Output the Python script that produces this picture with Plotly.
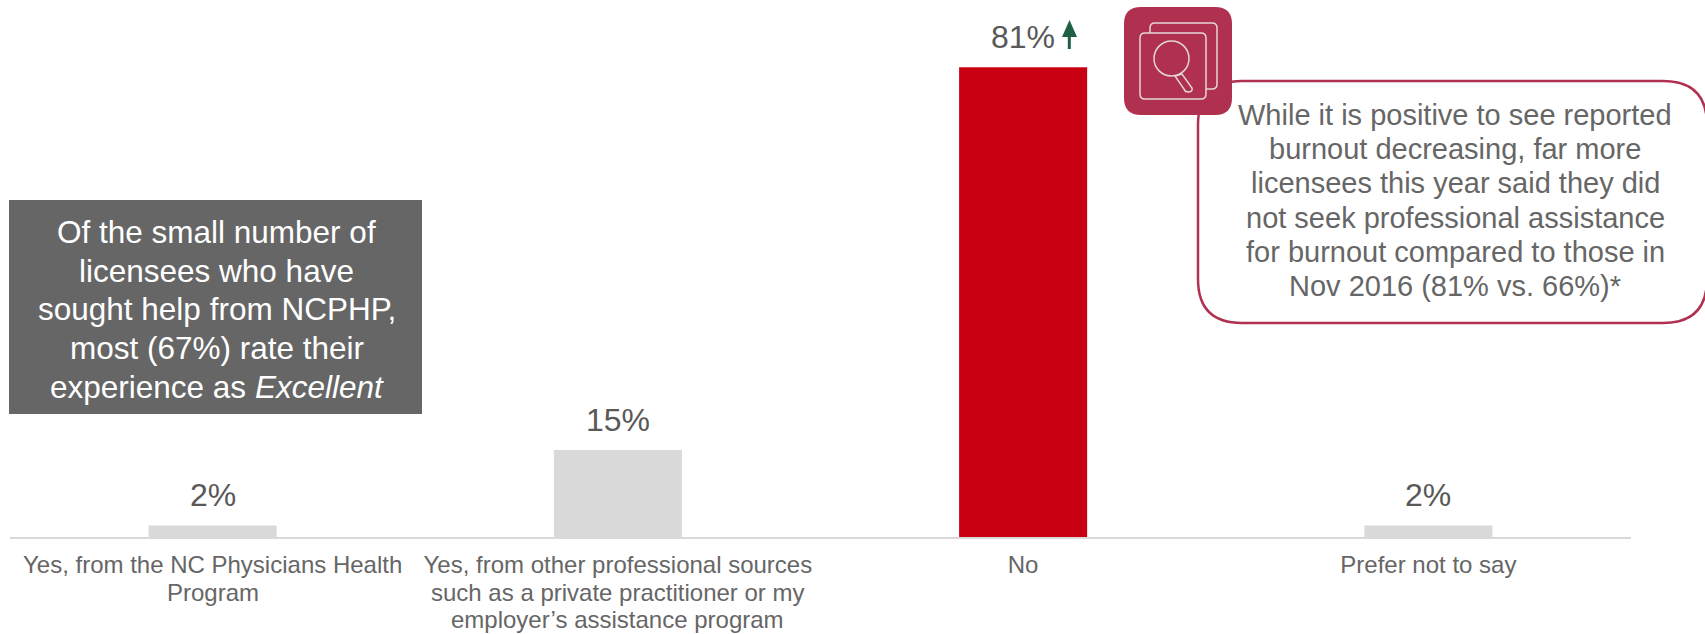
import plotly.graph_objects as go

# Survey responses: share of licensees who sought professional help for burnout
category_lines = [
    ["Yes, from the NC Physicians Health", "Program"],
    ["Yes, from other professional sources", "such as a private practitioner or my", "employer’s assistance program"],
    ["No"],
    ["Prefer not to say"],
]
values = [2, 15, 81, 2]
bar_colors = ["#D9D9D9", "#D9D9D9", "#C90012", "#D9D9D9"]

panel_lines = [
    "Of the small number of",
    "licensees who have",
    "sought help from NCPHP,",
    "most (67%) rate their",
    "experience as <i>Excellent</i>",
]
callout_lines = [
    "While it is positive to see reported",
    "burnout decreasing, far more",
    "licensees this year said they did",
    "not seek professional assistance",
    "for burnout compared to those in",
    "Nov 2016 (81% vs. 66%)*",
]

FONT = "Liberation Sans, Arial, sans-serif"
WIDTH, HEIGHT = 1705, 634
ML, MR, MT, MB = 10, 74, 15, 97
PLOT_W, PLOT_H = WIDTH - ML - MR, HEIGHT - MT - MB
BAND = "#B03050"
ARROW = "#1F6045"
ICON_LINE = "#E4D5D9"


def px(x):
    return (x - ML) / PLOT_W


def py(y):
    return 1 - (y - MT) / PLOT_H


def rounded(x0, y0, x1, y1, r):
    return (
        f"M{px(x0 + r)},{py(y0)} L{px(x1 - r)},{py(y0)} "
        f"Q{px(x1)},{py(y0)} {px(x1)},{py(y0 + r)} L{px(x1)},{py(y1 - r)} "
        f"Q{px(x1)},{py(y1)} {px(x1 - r)},{py(y1)} L{px(x0 + r)},{py(y1)} "
        f"Q{px(x0)},{py(y1)} {px(x0)},{py(y1 - r)} L{px(x0)},{py(y0 + r)} "
        f"Q{px(x0)},{py(y0)} {px(x0 + r)},{py(y0)} Z"
    )


def box_shape(x0, y0, x1, y1, r, fill, line=None, width=0):
    return dict(
        type="path", xref="paper", yref="paper", path=rounded(x0, y0, x1, y1, r),
        fillcolor=fill, line=dict(color=line or fill, width=width), layer="above",
    )


def polygon(points, fill):
    coords = " L".join(f"{px(x)},{py(y)}" for x, y in points)
    return dict(
        type="path", xref="paper", yref="paper", path=f"M{coords} Z",
        fillcolor=fill, line=dict(width=0), layer="above",
    )


def text_block(lines, center_x, first_y, spacing, size, color):
    # One annotation per line keeps the leading tighter than Plotly's default
    return [
        dict(
            x=px(center_x), y=py(first_y + i * spacing), xref="paper", yref="paper",
            xanchor="center", yanchor="middle", showarrow=False, text=line,
            font=dict(family=FONT, size=size, color=color),
        )
        for i, line in enumerate(lines)
    ]


shapes = [
    # Callout outline
    box_shape(1198, 81, 1707, 323, 44, "white", BAND, 2.5),
    # Grey takeaway panel
    dict(type="rect", xref="paper", yref="paper", x0=px(9), x1=px(422), y0=py(414), y1=py(200),
         fillcolor="#666666", line=dict(width=0), layer="above"),
    # Magnifier badge
    box_shape(1124, 7, 1232, 115, 17, BAND),
    box_shape(1150, 23, 1217, 89, 5, BAND, ICON_LINE, 1.5),
    box_shape(1140, 33, 1206, 99, 5, BAND, ICON_LINE, 1.5),
    dict(type="circle", xref="paper", yref="paper", x0=px(1154), x1=px(1189), y0=py(76), y1=py(41),
         fillcolor=BAND, line=dict(color=ICON_LINE, width=1.5), layer="above"),
    dict(type="path", xref="paper", yref="paper",
         path=f"M{px(1175)},{py(76)} L{px(1182)},{py(74)} L{px(1192)},{py(88)} "
              f"Q{px(1193)},{py(92)} {px(1188)},{py(92)} Q{px(1185)},{py(92)} {px(1184)},{py(89)} Z",
         fillcolor=BAND, line=dict(color=ICON_LINE, width=1.5), layer="above"),
    # Upward significance arrow
    polygon([(1067.8, 49), (1067.8, 37), (1062, 37), (1069.5, 20), (1077, 37), (1070.8, 37), (1070.8, 49)], ARROW),
]

positions = list(range(len(values)))

fig = go.Figure(
    go.Bar(
        x=positions,
        y=values,
        marker=dict(color=bar_colors, line=dict(width=0)),
        cliponaxis=False,
        width=0.316,
        hoverinfo="skip",
    )
)

annotations = []

# Value labels above each bar
for pos, value in zip(positions, values):
    annotations.append(dict(
        x=pos, y=value, xref="x", yref="y", xanchor="center", yanchor="bottom",
        yshift=10, showarrow=False, text=f"{value}%",
        font=dict(family=FONT, size=32, color="#595959"),
    ))

# Continuation lines of the category labels
for pos, lines in zip(positions, category_lines):
    for i, line in enumerate(lines[1:], start=1):
        annotations.append(dict(
            x=pos, y=py(565 + i * 27.3), xref="x", yref="paper", xanchor="center", yanchor="middle",
            showarrow=False, text=line, font=dict(family=FONT, size=24, color="#666666"),
        ))

annotations += text_block(panel_lines, 216.5, 232, 38.7, 31.5, "white")
annotations += text_block(callout_lines, 1455, 115, 34.2, 29, "#666666")

fig.update_layout(
    width=WIDTH,
    height=HEIGHT,
    autosize=False,
    margin=dict(l=ML, r=MR, t=MT, b=MB, autoexpand=False),
    paper_bgcolor="white",
    plot_bgcolor="white",
    showlegend=False,
    shapes=shapes,
    annotations=annotations,
    xaxis=dict(
        range=[-0.5, 3.5],
        automargin=False,
        tickmode="array",
        tickvals=positions,
        ticktext=[lines[0] for lines in category_lines],
        tickangle=0,
        ticks="",
        ticklabelstandoff=5,
        tickfont=dict(family=FONT, size=24, color="#666666"),
        showgrid=False,
        zeroline=False,
        showline=True,
        linecolor="#D9D9D9",
        linewidth=2,
    ),
    yaxis=dict(range=[0, 90], visible=False, automargin=False),
)

fig.write_html("out.html")
